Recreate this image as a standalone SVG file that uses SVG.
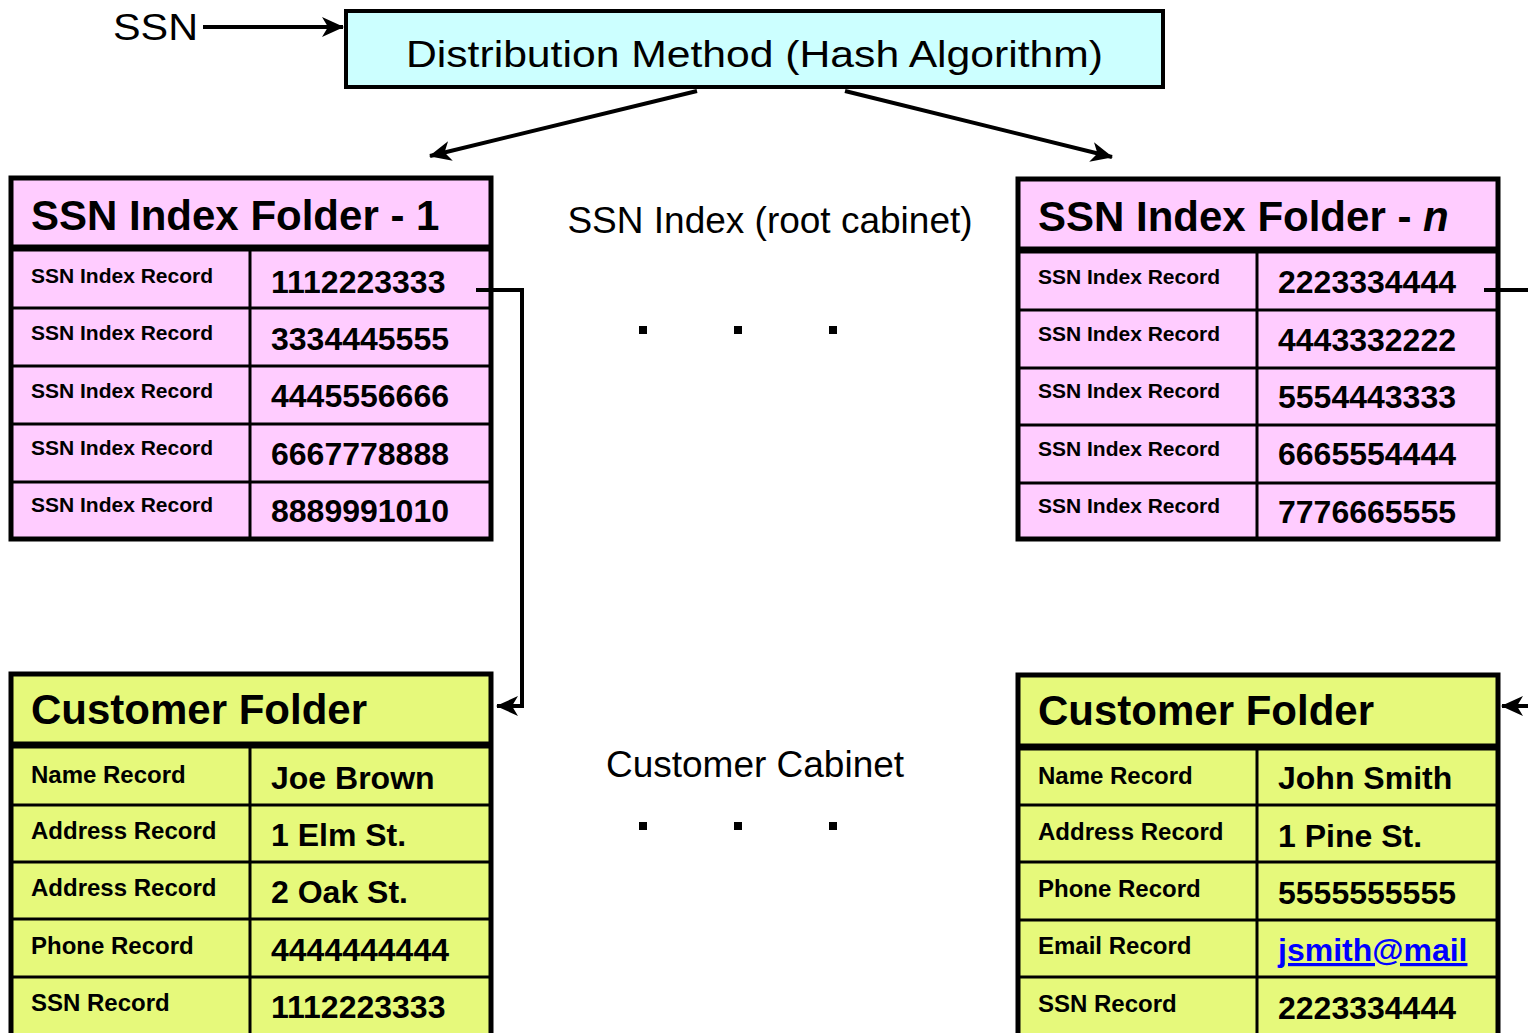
<svg xmlns="http://www.w3.org/2000/svg" width="1528" height="1033" viewBox="0 0 1528 1033">
<defs>
<style>
.pink{fill:#FFCCFF;}
.yel{fill:#E6F97B;}
.outer{fill:none;stroke:#000;stroke-width:5;}
.sep{stroke:#000;stroke-width:7;}
.row{stroke:#000;stroke-width:3;}
.title{font-family:"Liberation Sans",Arial,sans-serif;font-weight:bold;font-size:42px;fill:#000;}
.lab{font-family:"Liberation Sans",Arial,sans-serif;font-weight:bold;font-size:21px;fill:#000;}
.clab{font-family:"Liberation Sans",Arial,sans-serif;font-weight:bold;font-size:24px;fill:#000;}
.val{font-family:"Liberation Sans",Arial,sans-serif;font-weight:bold;font-size:32px;fill:#000;}
.plain{font-family:"Liberation Sans",Arial,sans-serif;font-size:37px;fill:#000;}
.conn{fill:none;stroke:#000;stroke-width:4;}
.dot{fill:#000;}
</style>
<marker id="ah" markerWidth="22" markerHeight="20" refX="21" refY="10" orient="auto" markerUnits="userSpaceOnUse">
<path d="M0,0 L22,10 L0,20 L6,10 z" fill="#000"/>
</marker>
</defs>

<g id="hash">
<rect x="346" y="11" width="817" height="76" fill="#CCFFFF" stroke="#000" stroke-width="4"/>
<text class="plain" x="406" y="67" font-size="46" textLength="697" lengthAdjust="spacingAndGlyphs">Distribution Method (Hash Algorithm)</text>
</g>

<g id="ssn-label">
<text class="plain" x="113" y="40" font-size="42" textLength="85" lengthAdjust="spacingAndGlyphs">SSN</text>
</g>

<g id="index-folder-1">
<rect class="pink" x="11" y="178" width="480" height="361"/>
<line class="sep" x1="11" y1="248" x2="491" y2="248"/>
<line class="row" x1="11" y1="308" x2="491" y2="308"/>
<line class="row" x1="11" y1="366" x2="491" y2="366"/>
<line class="row" x1="11" y1="424" x2="491" y2="424"/>
<line class="row" x1="11" y1="482" x2="491" y2="482"/>
<line class="row" x1="250" y1="250" x2="250" y2="539"/>
<rect class="outer" x="11" y="178" width="480" height="361"/>
<text class="title" x="31" y="230">SSN Index Folder - 1</text>
<text class="lab" x="31" y="283">SSN Index Record</text>
<text class="lab" x="31" y="340">SSN Index Record</text>
<text class="lab" x="31" y="398">SSN Index Record</text>
<text class="lab" x="31" y="455">SSN Index Record</text>
<text class="lab" x="31" y="512">SSN Index Record</text>
<text class="val" x="271" y="293">1112223333</text>
<text class="val" x="271" y="350">3334445555</text>
<text class="val" x="271" y="407">4445556666</text>
<text class="val" x="271" y="465">6667778888</text>
<text class="val" x="271" y="522">8889991010</text>
</g>

<g id="index-folder-n">
<rect class="pink" x="1018" y="179" width="480" height="360"/>
<line class="sep" x1="1018" y1="250" x2="1498" y2="250"/>
<line class="row" x1="1018" y1="310" x2="1498" y2="310"/>
<line class="row" x1="1018" y1="368" x2="1498" y2="368"/>
<line class="row" x1="1018" y1="425" x2="1498" y2="425"/>
<line class="row" x1="1018" y1="483" x2="1498" y2="483"/>
<line class="row" x1="1257" y1="252" x2="1257" y2="539"/>
<rect class="outer" x="1018" y="179" width="480" height="360"/>
<text class="title" x="1038" y="231">SSN Index Folder - <tspan font-style="italic">n</tspan></text>
<text class="lab" x="1038" y="284">SSN Index Record</text>
<text class="lab" x="1038" y="341">SSN Index Record</text>
<text class="lab" x="1038" y="398">SSN Index Record</text>
<text class="lab" x="1038" y="456">SSN Index Record</text>
<text class="lab" x="1038" y="513">SSN Index Record</text>
<text class="val" x="1278" y="293">2223334444</text>
<text class="val" x="1278" y="351">4443332222</text>
<text class="val" x="1278" y="408">5554443333</text>
<text class="val" x="1278" y="465">6665554444</text>
<text class="val" x="1278" y="523">7776665555</text>
</g>

<g id="root-cabinet-label">
<text class="plain" x="770" y="233" text-anchor="middle">SSN Index (root cabinet)</text>
<rect class="dot" x="639" y="326" width="8" height="8"/>
<rect class="dot" x="734" y="326" width="8" height="8"/>
<rect class="dot" x="829" y="326" width="8" height="8"/>
</g>

<g id="customer-cabinet-label">
<text class="plain" x="755" y="777" text-anchor="middle">Customer Cabinet</text>
<rect class="dot" x="639" y="822" width="8" height="8"/>
<rect class="dot" x="734" y="822" width="8" height="8"/>
<rect class="dot" x="829" y="822" width="8" height="8"/>
</g>

<g id="customer-folder-1">
<rect class="yel" x="11" y="674" width="480" height="365"/>
<line class="sep" x1="11" y1="745" x2="491" y2="745"/>
<line class="row" x1="11" y1="805" x2="491" y2="805"/>
<line class="row" x1="11" y1="862" x2="491" y2="862"/>
<line class="row" x1="11" y1="919" x2="491" y2="919"/>
<line class="row" x1="11" y1="977" x2="491" y2="977"/>
<line class="row" x1="250" y1="747" x2="250" y2="1039"/>
<rect class="outer" x="11" y="674" width="480" height="365"/>
<text class="title" x="31" y="724">Customer Folder</text>
<text class="clab" x="31" y="783">Name Record</text>
<text class="clab" x="31" y="839">Address Record</text>
<text class="clab" x="31" y="896">Address Record</text>
<text class="clab" x="31" y="954">Phone Record</text>
<text class="clab" x="31" y="1011">SSN Record</text>
<text class="val" x="271" y="789">Joe Brown</text>
<text class="val" x="271" y="846">1 Elm St.</text>
<text class="val" x="271" y="903">2 Oak St.</text>
<text class="val" x="271" y="961">4444444444</text>
<text class="val" x="271" y="1018">1112223333</text>
</g>

<g id="customer-folder-n">
<rect class="yel" x="1018" y="675" width="480" height="364"/>
<line class="sep" x1="1018" y1="747" x2="1498" y2="747"/>
<line class="row" x1="1018" y1="805" x2="1498" y2="805"/>
<line class="row" x1="1018" y1="862" x2="1498" y2="862"/>
<line class="row" x1="1018" y1="920" x2="1498" y2="920"/>
<line class="row" x1="1018" y1="977" x2="1498" y2="977"/>
<line class="row" x1="1257" y1="749" x2="1257" y2="1039"/>
<rect class="outer" x="1018" y="675" width="480" height="364"/>
<text class="title" x="1038" y="725">Customer Folder</text>
<text class="clab" x="1038" y="784">Name Record</text>
<text class="clab" x="1038" y="840">Address Record</text>
<text class="clab" x="1038" y="897">Phone Record</text>
<text class="clab" x="1038" y="954">Email Record</text>
<text class="clab" x="1038" y="1012">SSN Record</text>
<text class="val" x="1278" y="789">John Smith</text>
<text class="val" x="1278" y="847">1 Pine St.</text>
<text class="val" x="1278" y="904">5555555555</text>
<text class="val" x="1278" y="961" style="fill:#0000FF" text-decoration="underline">jsmith@mail</text>
<text class="val" x="1278" y="1019">2223334444</text>
</g>

<g id="connectors">
<line class="conn" x1="203" y1="27" x2="343" y2="27" marker-end="url(#ah)"/>
<line class="conn" x1="697" y1="91" x2="430" y2="156" stroke-width="5" marker-end="url(#ah)"/>
<line class="conn" x1="845" y1="91" x2="1112" y2="157" stroke-width="5" marker-end="url(#ah)"/>
<polyline class="conn" points="476,290 522,290 522,706 497,706" marker-end="url(#ah)"/>
<line class="conn" x1="1484" y1="290" x2="1528" y2="290"/>
<line class="conn" x1="1528" y1="706" x2="1502" y2="706" marker-end="url(#ah)"/>
</g>
</svg>
